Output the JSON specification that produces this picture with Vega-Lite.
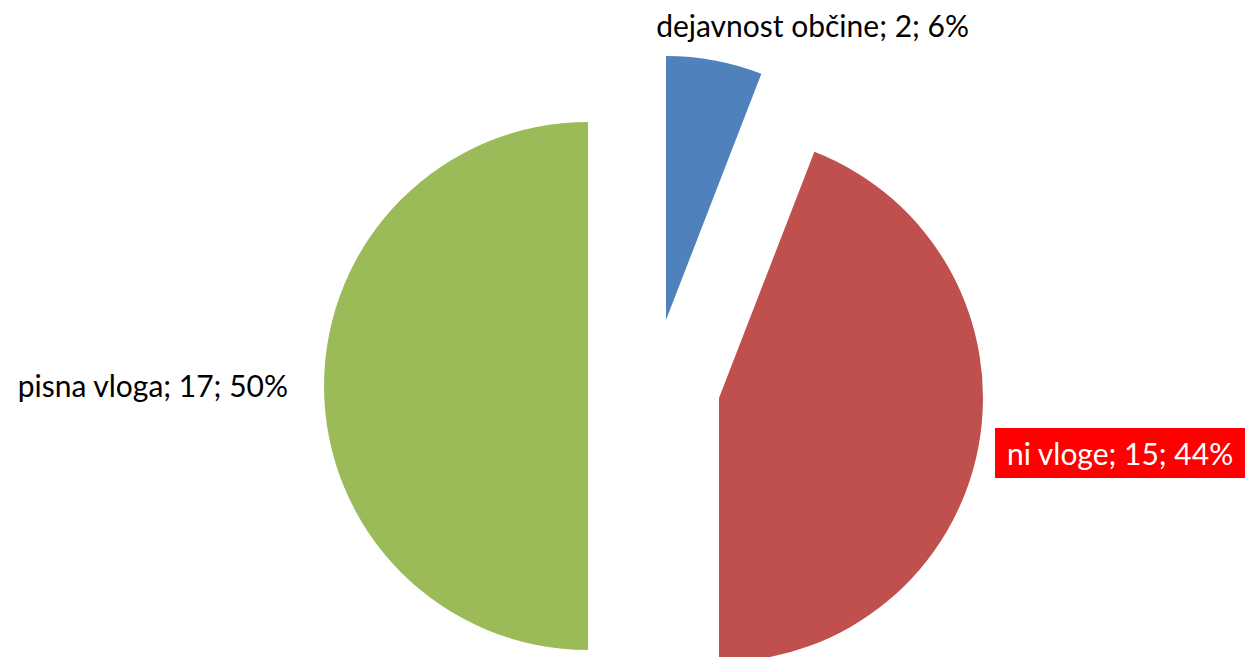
{
  "$schema": "https://vega.github.io/schema/vega-lite/v6.json",
  "width": 1202,
  "height": 542,
  "autosize": {"type": "none"},
  "padding": {"left": 52, "top": 115, "right": 0, "bottom": 0},
  "background": "white",
  "config": {"view": {"stroke": null}},
  "data": {
    "values": [
      {"k": 1, "cat": "dejavnost občine", "n": 2, "label": "dejavnost občine; 2; 6%"},
      {"k": 2, "cat": "ni vloge", "n": 15, "label": "ni vloge; 15; 44%"},
      {"k": 3, "cat": "pisna vloga", "n": 17, "label": "pisna vloga; 17; 50%"}
    ]
  },
  "transform": [
    {"stack": "n", "groupby": [], "sort": [{"field": "k", "order": "ascending"}], "as": ["s0", "s1"]}
  ],
  "layer": [
    {
      "transform": [{"filter": "datum.k == 1"}],
      "mark": {"type": "arc", "outerRadius": 264, "fill": "#4F81BD", "xOffset": 13, "yOffset": -66},
      "encoding": {
        "theta": {"field": "s0", "type": "quantitative", "scale": {"domain": [0, 34]}},
        "theta2": {"field": "s1"}
      }
    },
    {
      "transform": [{"filter": "datum.k == 2"}],
      "mark": {"type": "arc", "outerRadius": 264, "fill": "#C0504D", "xOffset": 66, "yOffset": 12},
      "encoding": {
        "theta": {"field": "s0", "type": "quantitative", "scale": {"domain": [0, 34]}},
        "theta2": {"field": "s1"}
      }
    },
    {
      "transform": [{"filter": "datum.k == 3"}],
      "mark": {"type": "arc", "outerRadius": 264, "fill": "#9BBB59", "xOffset": -65, "yOffset": 0},
      "encoding": {
        "theta": {"field": "s0", "type": "quantitative", "scale": {"domain": [0, 34]}},
        "theta2": {"field": "s1"}
      }
    },
    {
      "transform": [{"filter": "datum.k == 2"}],
      "mark": {"type": "point", "shape": "M-1,-0.2H1V0.2H-1Z", "size": 62500, "filled": true, "fill": "#FF0000", "opacity": 1, "strokeWidth": 0, "xOffset": 467, "yOffset": 67},
      "encoding": {}
    },
    {
      "mark": {
        "type": "text",
        "radius": 357,
        "font": "Lato",
        "fontSize": 30,
        "baseline": "alphabetic",
        "align": {"expr": "datum.k == 1 ? 'center' : datum.k == 2 ? 'left' : 'right'"},
        "dx": {"expr": "datum.k == 1 ? 94 : datum.k == 2 ? 3 : -8"},
        "dy": {"expr": "datum.k == 1 ? 2 : datum.k == 2 ? 13 : 11"},
        "fill": {"expr": "datum.k == 2 ? '#FFFFFF' : '#000000'"}
      },
      "encoding": {
        "theta": {"field": "n", "type": "quantitative", "stack": true, "scale": {"domain": [0, 34]}},
        "order": {"field": "k", "type": "quantitative"},
        "text": {"field": "label", "type": "nominal"}
      }
    }
  ]
}
